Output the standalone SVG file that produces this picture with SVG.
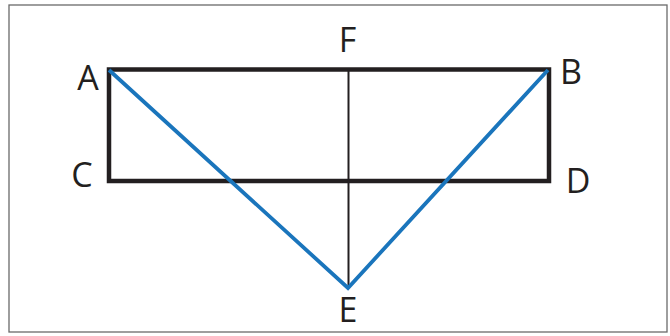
<svg xmlns="http://www.w3.org/2000/svg" width="670" height="336" viewBox="0 0 670 336">
<style>
.lbl{font-family:"Open Sans","Liberation Sans",sans-serif;font-size:34px;fill:#231f20;text-anchor:middle}
.frame{fill:#fff;stroke:#6a6a6a;stroke-width:1.3}
.rect{fill:none;stroke:#231f20;stroke-width:4.5}
.mid{stroke:#231f20;stroke-width:2}
.blue{fill:none;stroke:#1a75bc;stroke-width:3.8;stroke-linejoin:miter}
</style>
<rect class="frame" x="9" y="5" width="658" height="327"/>
<g id="connectors">
<rect class="rect" x="109" y="69.5" width="440" height="111.5"/>
<line class="mid" x1="348.5" y1="69.5" x2="348.5" y2="287"/>
<polyline class="blue" points="109,70 348,288 548,70"/>
</g>
<g id="A"><text class="lbl" x="88" y="90">A</text></g>
<g id="B"><text class="lbl" x="571" y="84">B</text></g>
<g id="C"><text class="lbl" x="82" y="187">C</text></g>
<g id="D"><text class="lbl" x="578" y="193">D</text></g>
<g id="E"><text class="lbl" x="348" y="322">E</text></g>
<g id="F"><text class="lbl" x="347.5" y="52">F</text></g>
</svg>
